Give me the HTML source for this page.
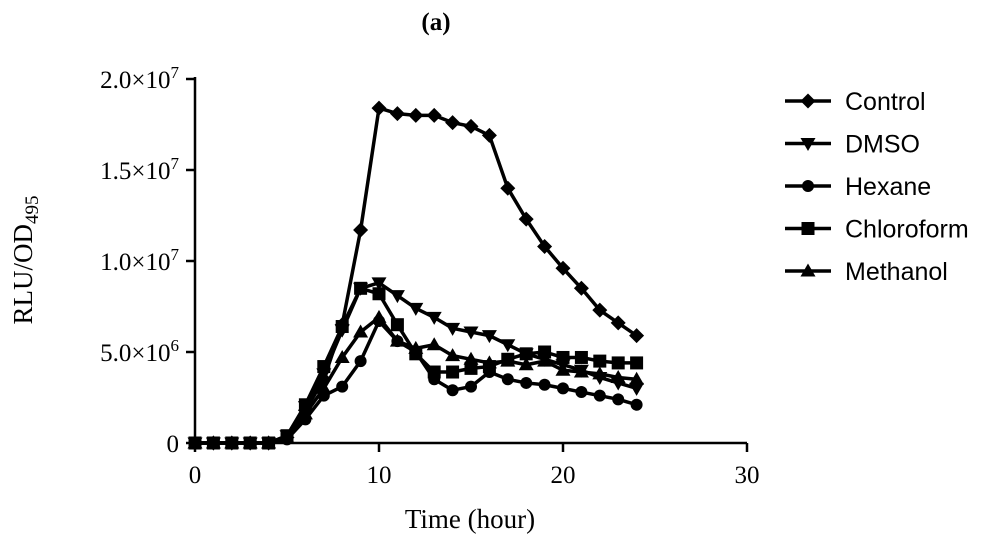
<!DOCTYPE html>
<html><head><meta charset="utf-8"><style>
body{margin:0;background:#fff}
svg{display:block}
.serif{font-family:"Liberation Serif",serif}
.sans{font-family:"Liberation Sans",sans-serif}
</style></head><body>
<svg id="chart" width="1000" height="544">
<text class="serif" x="436" y="30" text-anchor="middle" font-size="25" font-weight="bold">(a)</text>
<g id="axes"></g>
<g id="series"></g>
<g id="legend"></g>
<text class="serif" x="470" y="528" text-anchor="middle" font-size="27">Time (hour)</text>
<text class="serif" transform="translate(32,260) rotate(-90)" text-anchor="middle" font-size="27">RLU/OD<tspan font-size="19" dy="6">495</tspan></text>
</svg>
<script>
const hours=[0,1,2,3,4,5,6,7,8,9,10,11,12,13,14,15,16,17,18,19,20,21,22,23,24];
const control=[0,0,0,0,0,0.3,1.8,3.5,6.5,11.7,18.4,18.1,18.0,18.0,17.6,17.4,16.9,14.0,12.3,10.8,9.6,8.5,7.3,6.6,5.9];
const dmso=[0,0,0,0,0,0.4,2.0,3.8,6.2,8.5,8.8,8.1,7.4,6.9,6.3,6.1,5.9,5.4,4.9,4.6,4.3,4.0,3.6,3.3,3.0];
const hexane=[0,0,0,0,0,0.2,1.3,2.6,3.1,4.5,6.7,5.6,5.0,3.5,2.9,3.1,3.9,3.5,3.3,3.2,3.0,2.8,2.6,2.4,2.1];
const chloroform=[0,0,0,0,0,0.4,2.1,4.2,6.4,8.5,8.2,6.5,4.9,3.9,3.9,4.1,4.2,4.6,4.9,5.0,4.7,4.7,4.5,4.4,4.4];
const methanol=[0,0,0,0,0,0.3,1.6,3.0,4.7,6.1,6.9,5.6,5.2,5.4,4.8,4.6,4.4,4.5,4.3,4.5,4.0,3.9,3.8,3.6,3.5];
const seriesNames=["Control","DMSO","Hexane","Chloroform","Methanol"];
const xTicks=[0,10,20,30];
const yTicks=[0,5,10,15,20];
const yTickLabels=["0","5.0×10<tspan dy='-10' font-size='17'>6</tspan>","1.0×10<tspan dy='-10' font-size='17'>7</tspan>","1.5×10<tspan dy='-10' font-size='17'>7</tspan>","2.0×10<tspan dy='-10' font-size='17'>7</tspan>"];
const NS="http://www.w3.org/2000/svg";
const X=v=>195+v*18.4;
const Y=v=>443-v*18.2;
function mk(tag,attrs,parent){const e=document.createElementNS(NS,tag);for(const k in attrs)e.setAttribute(k,attrs[k]);parent.appendChild(e);return e;}
const axes=document.getElementById('axes');
let ax=mk('line',{x1:X(0),y1:Y(20)-2,x2:X(0),y2:Y(0)+1,stroke:'#000','stroke-width':2.5},axes);


ax=mk('line',{x1:X(0)-1,y1:Y(0),x2:X(30),y2:Y(0),stroke:'#000','stroke-width':2.5},axes);


xTicks.forEach(t=>{
 let l=mk('line',{x1:X(t),y1:Y(0),x2:X(t),y2:Y(0)+9,stroke:'#000','stroke-width':2.5},axes);
 
 
 let tx=mk('text',{x:X(t),y:483,'text-anchor':'middle','font-size':25,class:'serif'},axes);
 tx.textContent=t;
 
 
});
yTicks.forEach((t,i)=>{
 let l=mk('line',{x1:X(0)-9,y1:Y(t),x2:X(0),y2:Y(t),stroke:'#000','stroke-width':2.5},axes);
 
 
 let tx=mk('text',{x:179,y:Y(t)+9,'text-anchor':'end','font-size':25,class:'serif'},axes);
 tx.innerHTML=yTickLabels[i];
 
 
});
function marker(type,x,y,parent){
 let e;
 if(type==='diamond')e=mk('polygon',{points:`${x},${y-7.5} ${x+7.5},${y} ${x},${y+7.5} ${x-7.5},${y}`},parent);
 else if(type==='down')e=mk('polygon',{points:`${x-7.5},${y-5.5} ${x+7.5},${y-5.5} ${x},${y+7.5}`},parent);
 else if(type==='circle')e=mk('circle',{cx:x,cy:y,r:6},parent);
 else if(type==='square')e=mk('rect',{x:x-6.5,y:y-6.5,width:13,height:13},parent);
 else e=mk('polygon',{points:`${x-7.5},${y+5.5} ${x+7.5},${y+5.5} ${x},${y-7.5}`},parent);
 e.setAttribute('fill','#000');
 return e;
}
const data=[control,dmso,hexane,chloroform,methanol];
const markers=['diamond','down','circle','square','up'];
const sg=document.getElementById('series');
data.forEach((vals,si)=>{
 const g=mk('g',{},sg);
 
 
 const pl=mk('polyline',{points:hours.map((h,i)=>X(h)+','+Y(vals[i])).join(' '),fill:'none',stroke:'#000','stroke-width':3.5,'stroke-linejoin':'round'},g);
 
 
 hours.forEach((h,i)=>{
  const m=marker(markers[si],X(h),Y(vals[i]),g);
  
  
 });
});
const lg=document.getElementById('legend');
seriesNames.forEach((n,i)=>{
 const y=101+i*42.5;
 const g=mk('g',{},lg);
 
 
 mk('line',{x1:785,y1:y,x2:831,y2:y,stroke:'#000','stroke-width':3.5},g);
 marker(markers[i],808,y,g);
 const t=mk('text',{x:845,y:y+9,'font-size':25,class:'sans'},g);
 t.textContent=n;
});
</script>
</body></html>
